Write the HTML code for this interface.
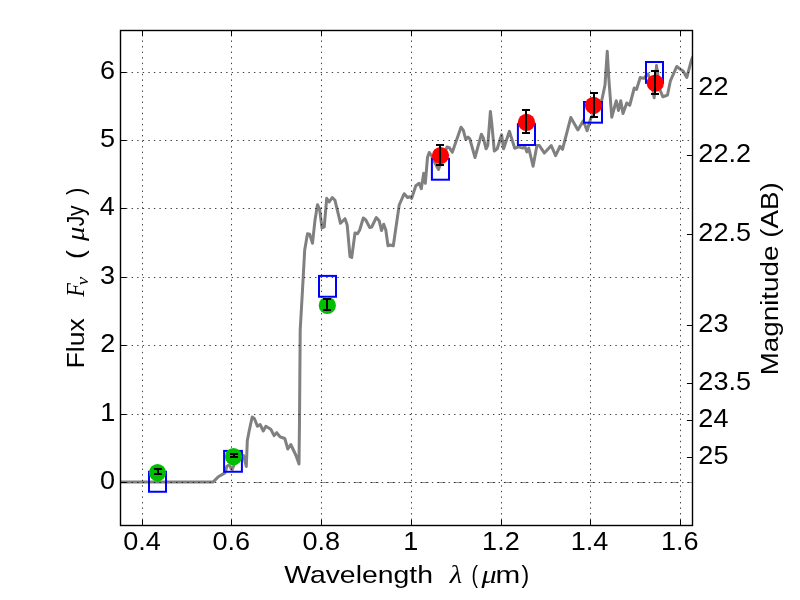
<!DOCTYPE html><html><head><meta charset="utf-8"><style>html,body{margin:0;padding:0;background:#fff;}svg{display:block;will-change:transform;}</style></head><body>
<svg width="800" height="600" viewBox="0 0 800 600">
<rect x="0" y="0" width="800" height="600" fill="#fff"/>
<defs><clipPath id="ax"><rect x="120.50" y="30.50" width="572.00" height="495.00"/></clipPath></defs>
<g clip-path="url(#ax)">
<path d="M120.50 482.50H692.50" stroke="#959595" stroke-width="1" stroke-dasharray="8.33 8.33" fill="none"/>
<path d="M120.70 481.90 L213.30 481.90 L218.30 476.70 L225.00 472.90 L226.80 466.50 L228.50 465.30 L230.00 465.80 L231.20 469.00 L232.20 469.50 L234.00 465.00 L238.00 459.00 L243.50 455.50 L246.30 466.50 L247.30 440.80 L249.30 430.30 L252.20 417.00 L254.50 418.70 L257.40 426.30 L260.10 424.50 L263.30 431.00 L265.90 426.30 L270.80 429.20 L274.10 435.60 L276.70 432.70 L280.00 436.80 L282.00 437.50 L284.80 438.50 L287.80 449.00 L290.80 444.50 L296.00 455.50 L299.00 464.00 L299.50 420.00 L300.20 330.00 L302.50 290.00 L304.70 250.00 L307.50 233.70 L309.70 234.20 L312.50 243.30 L315.00 220.00 L317.50 204.70 L319.70 209.70 L322.00 228.00 L324.20 227.00 L326.70 198.30 L329.20 202.00 L332.20 197.50 L335.00 200.30 L340.50 223.30 L345.00 218.70 L347.20 225.00 L350.00 256.70 L351.70 257.50 L355.00 233.00 L357.50 233.70 L359.70 230.00 L363.30 218.00 L365.80 220.00 L369.70 227.50 L371.70 227.00 L376.30 217.50 L379.20 220.80 L381.50 230.50 L383.70 224.20 L385.80 230.00 L388.00 245.80 L390.00 245.00 L393.30 245.80 L399.20 205.00 L404.20 193.70 L407.50 197.50 L410.00 196.70 L411.70 198.30 L415.80 185.80 L419.20 183.30 L421.30 188.70 L423.70 173.30 L425.30 183.30 L427.50 157.50 L429.20 152.50 L431.70 155.80 L435.00 163.00 L438.50 169.50 L442.00 160.00 L447.00 147.00 L449.30 147.60 L452.30 152.30 L461.00 127.20 L463.30 130.10 L465.70 139.40 L468.00 137.10 L469.80 138.80 L475.00 157.50 L481.40 134.20 L483.20 137.70 L486.10 148.80 L487.80 145.30 L490.40 111.40 L491.90 124.80 L494.30 151.10 L497.20 148.80 L501.60 134.80 L503.60 148.80 L509.40 131.30 L514.70 148.20 L518.75 146.90 L522.50 148.10 L525.00 146.90 L526.90 151.90 L528.75 148.10 L533.10 166.25 L536.90 145.60 L539.40 145.60 L544.40 153.10 L551.25 145.60 L555.60 155.60 L560.00 146.25 L562.50 149.40 L570.80 117.50 L577.90 130.00 L583.30 120.80 L587.10 130.80 L590.80 118.30 L601.70 100.80 L605.00 85.00 L607.25 51.25 L608.75 77.50 L611.75 117.25 L616.25 100.75 L618.50 110.50 L620.75 100.75 L623.00 113.50 L626.75 103.00 L629.75 105.25 L634.25 88.00 L636.50 89.50 L640.25 77.50 L643.70 78.40 L648.00 74.00 L652.00 84.00 L654.20 97.70 L656.50 65.60 L660.00 90.00 L662.90 96.80 L667.50 95.00 L670.30 81.20 L676.70 66.50 L680.40 69.30 L683.10 71.10 L686.80 77.50 L691.40 60.10 L696.00 50.00" stroke="#808080" stroke-width="3.0" fill="none" stroke-linejoin="round" stroke-linecap="butt"/>
<rect x="149.00" y="471.75" width="17.00" height="20.00" stroke="#0000ff" stroke-width="2" fill="none"/>
<rect x="224.10" y="450.90" width="17.80" height="20.85" stroke="#0000ff" stroke-width="2" fill="none"/>
<rect x="319.00" y="275.90" width="17.00" height="20.85" stroke="#0000ff" stroke-width="2" fill="none"/>
<rect x="431.90" y="158.85" width="17.10" height="20.85" stroke="#0000ff" stroke-width="2" fill="none"/>
<rect x="517.90" y="124.15" width="17.10" height="20.85" stroke="#0000ff" stroke-width="2" fill="none"/>
<rect x="584.00" y="102.00" width="18.00" height="20.67" stroke="#0000ff" stroke-width="2" fill="none"/>
<rect x="646.00" y="62.00" width="17.00" height="20.85" stroke="#0000ff" stroke-width="2" fill="none"/>
<path d="M142.50 525.60V30.50M231.50 525.60V30.50M321.50 525.60V30.50M411.50 525.60V30.50M501.50 525.60V30.50M590.50 525.60V30.50M680.50 525.60V30.50M120.50 482.50H692.50M120.50 414.50H692.50M120.50 345.50H692.50M120.50 277.50H692.50M120.50 208.50H692.50M120.50 140.50H692.50M120.50 72.50H692.50" stroke="#000" stroke-width="0.75" stroke-dasharray="1.39 4.17" fill="none"/>
<circle cx="157.50" cy="472.60" r="8.6" fill="#00bf00"/>
<circle cx="233.50" cy="456.60" r="8.6" fill="#00bf00"/>
<circle cx="327.30" cy="305.40" r="8.6" fill="#00bf00"/>
<circle cx="440.50" cy="155.50" r="8.6" fill="#ff0000"/>
<circle cx="526.50" cy="122.30" r="8.6" fill="#ff0000"/>
<circle cx="593.50" cy="105.30" r="8.6" fill="#ff0000"/>
<circle cx="655.30" cy="83.20" r="8.6" fill="#ff0000"/>
<path d="M158.00 469.00V474.00M154.00 469.00H162.00M154.00 474.00H162.00M234.00 454.00V457.00M230.00 454.00H238.00M230.00 457.00H238.00M327.00 299.00V310.00M323.00 299.00H331.00M323.00 310.00H331.00M440.00 145.00V165.00M436.00 145.00H444.00M436.00 165.00H444.00M526.00 110.00V133.00M522.00 110.00H530.00M522.00 133.00H530.00M594.00 93.00V117.00M590.00 93.00H598.00M590.00 117.00H598.00M655.00 71.00V94.00M651.00 71.00H659.00M651.00 94.00H659.00" stroke="#000" stroke-width="2" fill="none"/>
</g>
<path d="M142.50 525.50V519.90M142.50 30.50V36.10M231.50 525.50V519.90M231.50 30.50V36.10M321.50 525.50V519.90M321.50 30.50V36.10M411.50 525.50V519.90M411.50 30.50V36.10M501.50 525.50V519.90M501.50 30.50V36.10M590.50 525.50V519.90M590.50 30.50V36.10M680.50 525.50V519.90M680.50 30.50V36.10M120.50 482.50H126.10M120.50 414.50H126.10M120.50 345.50H126.10M120.50 277.50H126.10M120.50 208.50H126.10M120.50 140.50H126.10M120.50 72.50H126.10M692.50 88.50H686.90M692.50 155.50H686.90M692.50 234.50H686.90M692.50 325.50H686.90M692.50 383.50H686.90M692.50 420.50H686.90M692.50 457.50H686.90" stroke="#000" stroke-width="1.0" fill="none"/>
<rect x="120.50" y="30.50" width="572.00" height="495.00" stroke="#000" stroke-width="1.4" fill="none"/>
<g fill="#000">
<text transform="translate(123.31 550.20) scale(1.0740 1)" font-family="Liberation Sans, sans-serif" font-size="25.20">0.4</text>
<text transform="translate(212.48 550.20) scale(1.0740 1)" font-family="Liberation Sans, sans-serif" font-size="25.20">0.6</text>
<text transform="translate(302.48 550.20) scale(1.0740 1)" font-family="Liberation Sans, sans-serif" font-size="25.20">0.8</text>
<text transform="translate(403.31 550.20) scale(1.0740 1)" font-family="Liberation Sans, sans-serif" font-size="25.20">1</text>
<text transform="translate(482.09 550.20) scale(1.0740 1)" font-family="Liberation Sans, sans-serif" font-size="25.20">1.2</text>
<text transform="translate(570.80 550.20) scale(1.0740 1)" font-family="Liberation Sans, sans-serif" font-size="25.20">1.4</text>
<text transform="translate(660.97 550.20) scale(1.0740 1)" font-family="Liberation Sans, sans-serif" font-size="25.20">1.6</text>
<text transform="translate(99.92 488.80) scale(1.0740 1)" font-family="Liberation Sans, sans-serif" font-size="25.20">0</text>
<text transform="translate(100.14 420.80) scale(1.0740 1)" font-family="Liberation Sans, sans-serif" font-size="25.20">1</text>
<text transform="translate(100.25 351.80) scale(1.0740 1)" font-family="Liberation Sans, sans-serif" font-size="25.20">2</text>
<text transform="translate(100.03 283.80) scale(1.0740 1)" font-family="Liberation Sans, sans-serif" font-size="25.20">3</text>
<text transform="translate(99.69 214.80) scale(1.0740 1)" font-family="Liberation Sans, sans-serif" font-size="25.20">4</text>
<text transform="translate(100.03 146.80) scale(1.0740 1)" font-family="Liberation Sans, sans-serif" font-size="25.20">5</text>
<text transform="translate(100.03 78.80) scale(1.0740 1)" font-family="Liberation Sans, sans-serif" font-size="25.20">6</text>
<text transform="translate(698.35 94.90) scale(1.0740 1)" font-family="Liberation Sans, sans-serif" font-size="25.20">22</text>
<text transform="translate(698.35 161.90) scale(1.0740 1)" font-family="Liberation Sans, sans-serif" font-size="25.20">22.2</text>
<text transform="translate(698.35 240.90) scale(1.0740 1)" font-family="Liberation Sans, sans-serif" font-size="25.20">22.5</text>
<text transform="translate(698.35 331.90) scale(1.0740 1)" font-family="Liberation Sans, sans-serif" font-size="25.20">23</text>
<text transform="translate(698.35 389.90) scale(1.0740 1)" font-family="Liberation Sans, sans-serif" font-size="25.20">23.5</text>
<text transform="translate(698.35 426.90) scale(1.0740 1)" font-family="Liberation Sans, sans-serif" font-size="25.20">24</text>
<text transform="translate(698.35 463.90) scale(1.0740 1)" font-family="Liberation Sans, sans-serif" font-size="25.20">25</text>
<text transform="translate(284.18 582.80) scale(1.1634 1)" font-family="Liberation Sans, sans-serif" font-size="24.40">Wavelength</text>
<text transform="translate(449.72 583.00) scale(1.1728 1)" font-family="Liberation Serif, serif" font-size="24.40" font-style="italic">λ</text>
<text transform="translate(471.39 582.80) scale(0.7963 1)" font-family="Liberation Sans, sans-serif" font-size="24.40">(</text>
<text transform="translate(481.60 582.80) scale(1.2383 1)" font-family="Liberation Serif, serif" font-size="24.40" font-style="italic">μ</text>
<text transform="translate(495.42 582.80) scale(1.2178 1)" font-family="Liberation Sans, sans-serif" font-size="24.40">m</text>
<text transform="translate(521.41 582.80) scale(0.9524 1)" font-family="Liberation Sans, sans-serif" font-size="24.40">)</text>
<g transform="translate(84 366.3) rotate(-90)">
<text transform="translate(-2.22 0.00) scale(1.0911 1)" font-family="Liberation Sans, sans-serif" font-size="24.40">Flux</text>
<text transform="translate(69.49 0.00) scale(0.9115 1)" font-family="Liberation Serif, serif" font-size="24.40" font-style="italic">F</text>
<text transform="translate(81.06 3.50) scale(1.0771 1)" font-family="Liberation Serif, serif" font-size="17.57" font-style="italic">ν</text>
<text transform="translate(107.41 0.00) scale(1.1085 1)" font-family="Liberation Sans, sans-serif" font-size="24.40">(</text>
<text transform="translate(125.40 0.00) scale(1.1768 1)" font-family="Liberation Serif, serif" font-size="24.40" font-style="italic">μ</text>
<text transform="translate(139.95 0.00) scale(0.8580 1)" font-family="Liberation Sans, sans-serif" font-size="24.40">Jy</text>
<text transform="translate(171.22 0.00) scale(0.8899 1)" font-family="Liberation Sans, sans-serif" font-size="24.40">)</text>
</g>
<g transform="translate(777.8 373) rotate(-90)">
<text transform="translate(-2.32 0.00) scale(1.1396 1)" font-family="Liberation Sans, sans-serif" font-size="24.40">Magnitude (AB)</text>
</g>
</g>
</svg></body></html>
